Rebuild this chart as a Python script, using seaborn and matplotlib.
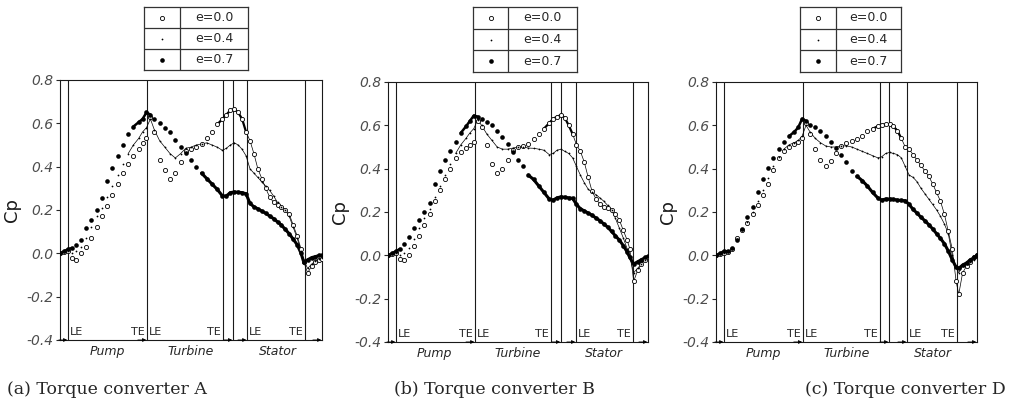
import numpy as np
import pandas as pd
import matplotlib
matplotlib.use('Agg')
import matplotlib.pyplot as plt
import seaborn as sns

sns.set_theme(style='white')
plt.rcParams['font.family'] = ['DejaVu Sans']

# position along the meridional path (% of total length)
x_pos = [0, 1.5, 3, 4.5, 6, 8, 10, 12, 14, 16, 18, 20, 22, 24, 26, 28, 30, 31.5, 33,
         34.5, 36, 38, 40, 42, 44, 46, 48, 50, 52, 54, 56, 58, 60, 62,
         63.5, 65, 66.5, 68, 69.5, 71,
         72.5, 74, 75.5, 77, 78.5, 80, 81.5, 83, 84.5, 86, 87.5, 89, 90.5, 92, 93,
         94.5, 96, 97.5, 99, 100]

# --- torque converter A
cp_a_00 = [0.0, 0.005, 0.01, -0.02, -0.03, 0.0, 0.03, 0.07, 0.12, 0.17, 0.22, 0.27, 0.32, 0.37, 0.41, 0.45, 0.48, 0.51, 0.53,
           0.63, 0.56, 0.43, 0.385, 0.345, 0.37, 0.42, 0.47, 0.48, 0.49, 0.505, 0.53, 0.56, 0.595, 0.62,
           0.64, 0.66, 0.665, 0.65, 0.62, 0.56,
           0.52, 0.46, 0.39, 0.345, 0.30, 0.26, 0.235, 0.225, 0.215, 0.2, 0.18, 0.13, 0.08, 0.02, -0.04,
           -0.09, -0.06, -0.04, -0.03, -0.025]
cp_a_04 = [0.0, 0.005, 0.01, 0.0, 0.01, 0.03, 0.07, 0.12, 0.17, 0.21, 0.26, 0.31, 0.36, 0.41, 0.46, 0.50, 0.53, 0.56, 0.58,
           0.62, 0.57, 0.52, 0.49, 0.46, 0.44, 0.46, 0.485, 0.49, 0.5, 0.505, 0.51, 0.5, 0.49, 0.475,
           0.485, 0.5, 0.51, 0.5, 0.48, 0.45,
           0.39, 0.37, 0.35, 0.33, 0.31, 0.29, 0.265, 0.235, 0.215, 0.2, 0.17, 0.12, 0.07, 0.01, -0.03,
           -0.07, -0.05, -0.035, -0.025, -0.02]
cp_a_07 = [0.0, 0.01, 0.02, 0.025, 0.04, 0.06, 0.115, 0.155, 0.2, 0.255, 0.335, 0.395, 0.45, 0.5, 0.55, 0.585, 0.605, 0.62, 0.65,
           0.64, 0.62, 0.60, 0.58, 0.56, 0.525, 0.49, 0.465, 0.43, 0.40, 0.37, 0.345, 0.32, 0.295, 0.265,
           0.265, 0.28, 0.283, 0.282, 0.28, 0.275,
           0.23, 0.215, 0.205, 0.195, 0.185, 0.172, 0.16, 0.145, 0.13, 0.11, 0.09, 0.065, 0.04, 0.0, -0.04,
           -0.03, -0.02, -0.015, -0.01, -0.01]

# --- torque converter B
cp_b_00 = [0.0, 0.005, 0.01, -0.015, -0.02, 0.0, 0.045, 0.09, 0.14, 0.19, 0.25, 0.3, 0.35, 0.4, 0.45, 0.475, 0.495, 0.51, 0.525,
           0.62, 0.59, 0.51, 0.42, 0.38, 0.40, 0.44, 0.485, 0.50, 0.505, 0.515, 0.535, 0.56, 0.585, 0.61,
           0.63, 0.64, 0.647, 0.635, 0.6, 0.56,
           0.51, 0.48, 0.43, 0.36, 0.295, 0.26, 0.237, 0.225, 0.217, 0.21, 0.19, 0.163, 0.115, 0.07, 0.03,
           -0.12, -0.07, -0.04, -0.02, -0.01]
cp_b_04 = [0.0, 0.005, 0.01, 0.0, 0.01, 0.035, 0.075, 0.125, 0.17, 0.215, 0.27, 0.32, 0.37, 0.42, 0.47, 0.51, 0.54, 0.565, 0.585,
           0.625, 0.6, 0.56, 0.53, 0.5, 0.49, 0.49, 0.495, 0.5, 0.5, 0.495, 0.494, 0.49, 0.485, 0.465,
           0.47, 0.485, 0.49, 0.48, 0.47, 0.45,
           0.41, 0.37, 0.335, 0.305, 0.29, 0.28, 0.265, 0.25, 0.23, 0.21, 0.17, 0.125, 0.08, 0.03, -0.01,
           -0.08, -0.06, -0.04, -0.02, -0.01]
cp_b_07 = [0.0, 0.01, 0.02, 0.03, 0.05, 0.085, 0.125, 0.165, 0.2, 0.24, 0.33, 0.39, 0.44, 0.48, 0.525, 0.565, 0.595, 0.62, 0.645,
           0.64, 0.63, 0.615, 0.6, 0.575, 0.545, 0.515, 0.475, 0.44, 0.41, 0.37, 0.35, 0.32, 0.29, 0.26,
           0.255, 0.265, 0.27, 0.268, 0.265, 0.263,
           0.235, 0.215, 0.205, 0.195, 0.185, 0.172, 0.16, 0.145, 0.13, 0.11, 0.09, 0.07, 0.045, 0.015, -0.01,
           -0.04, -0.03, -0.02, -0.01, -0.005]

# --- torque converter D
cp_d_00 = [0.0, 0.005, 0.01, 0.015, 0.03, 0.08, 0.115, 0.15, 0.19, 0.23, 0.28, 0.33, 0.395, 0.45, 0.48, 0.5, 0.515, 0.525, 0.54,
           0.61, 0.56, 0.49, 0.44, 0.41, 0.435, 0.47, 0.505, 0.52, 0.527, 0.535, 0.552, 0.572, 0.585, 0.595,
           0.6, 0.605, 0.605, 0.595, 0.575, 0.54,
           0.5, 0.49, 0.465, 0.44, 0.415, 0.39, 0.365, 0.33, 0.29, 0.25, 0.19, 0.11, 0.03, -0.12, -0.18,
           -0.08, -0.05, -0.03, -0.01, 0.0]
cp_d_04 = [0.0, 0.005, 0.01, 0.015, 0.03, 0.075, 0.115, 0.155, 0.2, 0.25, 0.3, 0.355, 0.41, 0.455, 0.49, 0.51, 0.52, 0.53, 0.55,
           0.6, 0.57, 0.54, 0.52, 0.505, 0.5, 0.5, 0.505, 0.505, 0.5, 0.49, 0.48, 0.47, 0.46, 0.45,
           0.455, 0.47, 0.475, 0.47, 0.465, 0.45,
           0.41, 0.37, 0.36, 0.34, 0.31, 0.285, 0.26, 0.235, 0.21, 0.18, 0.145, 0.1, 0.0, -0.06, -0.08,
           -0.05, -0.04, -0.03, -0.02, -0.01]
cp_d_07 = [0.0, 0.01, 0.02, 0.02, 0.035, 0.07, 0.12, 0.175, 0.225, 0.29, 0.35, 0.405, 0.447, 0.49, 0.525, 0.55, 0.57, 0.59, 0.63,
           0.62, 0.6, 0.59, 0.575, 0.55, 0.525, 0.495, 0.465, 0.43, 0.39, 0.365, 0.345, 0.32, 0.29, 0.265,
           0.255, 0.26, 0.26, 0.258, 0.255, 0.253,
           0.252, 0.235, 0.212, 0.195, 0.176, 0.16, 0.142, 0.122, 0.1, 0.078, 0.054, 0.02, -0.02, -0.055, -0.06,
           -0.045, -0.035, -0.02, -0.01, 0.0]

ratios = ['e=0.0', 'e=0.4', 'e=0.7']
converters = ['A', 'B', 'D']
captions = ['(a) Torque converter A', '(b) Torque converter B', '(c) Torque converter D']

# blade edges (% of path): pump LE, pump TE, turbine TE, gap, stator LE, stator TE
edges_a = [3.05, 33.2, 62.2, 66.0, 71.4, 93.5]
edges_b = [3.1, 33.5, 62.7, 66.5, 72.3, 94.2]
edges_d = [3.1, 33.3, 62.8, 66.3, 73.2, 92.3]

yticks = [-0.4, -0.2, 0.0, 0.2, 0.4, 0.6, 0.8]
ytick_labels = ['-0.4', '-0.2', '0.0', '0.2', '0.4', '0.6', '0.8']

# build a long table
series = {'A': [cp_a_00, cp_a_04, cp_a_07],
          'B': [cp_b_00, cp_b_04, cp_b_07],
          'D': [cp_d_00, cp_d_04, cp_d_07]}
rows = []
for conv in converters:
    for r, vals in zip(ratios, series[conv]):
        for xv, cv in zip(x_pos, vals):
            rows.append((conv, r, xv, cv))
df = pd.DataFrame(rows, columns=['converter', 'ratio', 'x', 'Cp'])

styles = {
    'e=0.0': dict(marker='o', s=9, color='white', edgecolor='black', linewidth=0.6, zorder=3),
    'e=0.4': dict(marker='o', s=1.6, color='black', edgecolor='black', linewidth=0, zorder=4),
    'e=0.7': dict(marker='o', s=11, color='black', edgecolor='black', linewidth=0, zorder=5),
}
# where the scanned points are so dense they read as a line: (x range, line width)
dense = {
    'e=0.0': [((60, 71), 1.6), ((71, 100), 0.5)],
    'e=0.4': [((26, 100), 0.5)],
    'e=0.7': [((0, 4.5), 1.5), ((27, 34.5), 1.8), ((54, 100), 2.2)],
}

fig = plt.figure(figsize=(10.24, 4.17), dpi=100)

ax_pos = [[0.0586, 0.1847, 0.2559, 0.6235],
          [0.3789, 0.1799, 0.2539, 0.6235],
          [0.6992, 0.1799, 0.2549, 0.6235]]
leg_pos = [[0.1406, 0.8321, 0.1016, 0.1511],
           [0.4619, 0.8273, 0.1016, 0.1559],
           [0.7813, 0.8273, 0.0986, 0.1559]]
leg_div = [0.346, 0.337, 0.356]
cap_x = [0.104, 0.483, 0.884]
edges_all = [edges_a, edges_b, edges_d]

for i, conv in enumerate(converters):
    ax = fig.add_axes(ax_pos[i])
    sub = df[df.converter == conv]
    for r in ratios:
        part = sub[sub.ratio == r]
        sns.scatterplot(data=part, x='x', y='Cp', ax=ax, legend=False, **styles[r])
        for (x0, x1), lw in dense[r]:
            seg = part[(part.x >= x0) & (part.x <= x1)]
            sns.lineplot(data=seg, x='x', y='Cp', ax=ax, color='black', lw=lw,
                         sort=False, estimator=None, legend=False, zorder=2)

    edges = edges_all[i]
    for e in edges:
        ax.axvline(e, color='0.1', lw=0.8, zorder=1)

    ax.set_xlim(0, 100)
    ax.set_ylim(-0.4, 0.8)
    ax.set_xticks([])
    ax.set_yticks(yticks)
    ax.set_yticklabels(ytick_labels, fontstyle='italic', color='0.3')
    ax.tick_params(axis='y', direction='out', length=3, width=0.8, pad=2, labelsize=10, left=True)
    for sp in ax.spines.values():
        sp.set_color('0.1')
        sp.set_linewidth(0.8)
    ax.set_xlabel('')
    ax.set_ylabel('Cp', fontsize=13, color='0.1')
    ax.yaxis.set_label_coords(-0.15, 0.5)

    # LE / TE marks
    y_lab = -0.365
    ax.text(edges[0] + 0.8, y_lab, 'LE', fontsize=8, ha='left', va='center')
    ax.text(edges[1] - 0.8, y_lab, 'TE', fontsize=8, ha='right', va='center')
    ax.text(edges[1] + 0.8, y_lab, 'LE', fontsize=8, ha='left', va='center')
    ax.text(edges[2] - 0.8, y_lab, 'TE', fontsize=8, ha='right', va='center')
    ax.text(edges[4] + 0.8, y_lab, 'LE', fontsize=8, ha='left', va='center')
    ax.text(edges[5] - 0.8, y_lab, 'TE', fontsize=8, ha='right', va='center')

    # small dimension arrows on the base line
    for e in [edges[0], edges[1], edges[3], edges[4], 100]:
        ax.annotate('', xy=(e - 0.3, -0.4), xytext=(e - 3.5, -0.4),
                    arrowprops=dict(arrowstyle='-|>', lw=0.6, color='black',
                                    mutation_scale=5, shrinkA=0, shrinkB=0),
                    annotation_clip=False)

    # component names under the axis
    trans = ax.get_xaxis_transform()
    ax.text(18, -0.045, 'Pump', transform=trans, fontsize=9, fontstyle='italic', ha='center', va='center')
    ax.text(50, -0.045, 'Turbine', transform=trans, fontsize=9, fontstyle='italic', ha='center', va='center')
    ax.text(83, -0.045, 'Stator', transform=trans, fontsize=9, fontstyle='italic', ha='center', va='center')

    # legend table
    lg = fig.add_axes(leg_pos[i])
    lg.set_xlim(0, 1)
    lg.set_ylim(0, 3)
    lg.set_xticks([])
    lg.set_yticks([])
    for sp in lg.spines.values():
        sp.set_color('0.2')
        sp.set_linewidth(0.9)
    lg.axvline(leg_div[i], color='0.2', lw=0.9)
    lg.axhline(1, color='0.2', lw=0.9)
    lg.axhline(2, color='0.2', lw=0.9)
    for k, r in enumerate(ratios):
        yy = 2.5 - k
        st = dict(styles[r])
        st.pop('zorder')
        lg.scatter([leg_div[i] / 2], [yy], **st)
        lg.text((1 + leg_div[i]) / 2, yy, r, fontsize=9, ha='center', va='center')

    fig.text(cap_x[i], 0.065, captions[i], fontsize=12.5, family='DejaVu Serif',
             ha='center', va='center')

plt.savefig('out.png', dpi=100)
